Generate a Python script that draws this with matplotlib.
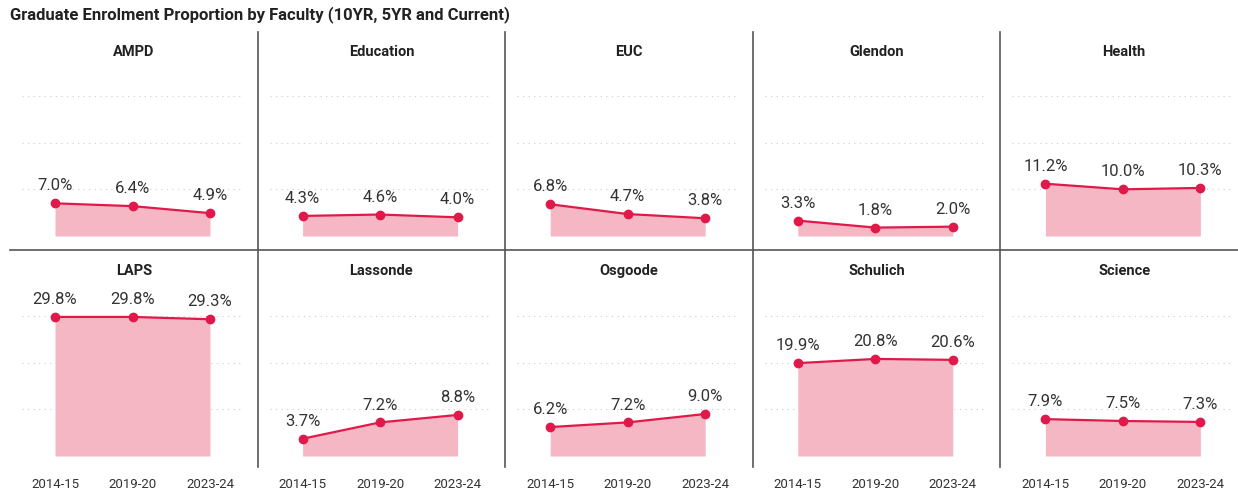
import matplotlib.pyplot as plt
from matplotlib.lines import Line2D

plt.rcParams['font.family'] = ['Roboto', 'DejaVu Sans']

# data
years = ['2014-15', '2019-20', '2023-24']
faculties = ['AMPD', 'Education', 'EUC', 'Glendon', 'Health',
             'LAPS', 'Lassonde', 'Osgoode', 'Schulich', 'Science']
ampd = [7.0, 6.4, 4.9]
education = [4.3, 4.6, 4.0]
euc = [6.8, 4.7, 3.8]
glendon = [3.3, 1.8, 2.0]
health = [11.2, 10.0, 10.3]
laps = [29.8, 29.8, 29.3]
lassonde = [3.7, 7.2, 8.8]
osgoode = [6.2, 7.2, 9.0]
schulich = [19.9, 20.8, 20.6]
science = [7.9, 7.5, 7.3]
values = [ampd, education, euc, glendon, health,
          laps, lassonde, osgoode, schulich, science]

line_color = '#E0194A'
fill_color = '#F5B7C3'
text_color = '#333333'
sep_color = '#555555'

W, H = 1238, 492
fig = plt.figure(figsize=(W / 100, H / 100), dpi=100)

fig.text(10 / W, 1 - 15 / H, 'Graduate Enrolment Proportion by Faculty (10YR, 5YR and Current)',
         fontsize=12, fontweight='bold', color='#222222', va='center', ha='left')

panel_w = 247.6
x = list(range(len(years)))
for i, (name, vals) in enumerate(zip(faculties, values)):
    row, col = divmod(i, 5)
    left = 10 + panel_w * col + 12
    bottom_px = 236 if row == 0 else 456
    top_px = bottom_px - 168
    ax = fig.add_axes([left / W, 1 - bottom_px / H, 221 / W, (bottom_px - top_px) / H])
    ax.fill_between(x, vals, 0, color=fill_color, linewidth=0)
    ax.plot(x, vals, color=line_color, linewidth=1.6, marker='o', markersize=6)
    for xi, v in zip(x, vals):
        ax.annotate(f'{v:.1f}%', (xi, v), xytext=(0, 12.5), textcoords='offset points',
                    ha='center', va='center', fontsize=12, color=text_color)
    ax.set_xlim(-0.426, 2.426)
    ax.set_ylim(0, 36)
    ax.set_yticks([0, 10, 20, 30])
    ax.grid(axis='y', linestyle=(0, (1, 4)), color='#CCCCCC', linewidth=0.8)
    ax.set_axisbelow(True)
    for s in ax.spines.values():
        s.set_visible(False)
    ax.tick_params(length=0, labelleft=False)
    ax.set_xticks(x)
    if row == 1:
        ax.set_xticklabels(years, fontsize=9.5, color=text_color)
        ax.tick_params(axis='x', pad=16)
    else:
        ax.set_xticklabels([])
    title_y = 52 if row == 0 else 271
    fig.text((10 + panel_w * col + panel_w / 2) / W, 1 - title_y / H, name,
             fontsize=10.5, fontweight='bold', color='#222222', ha='center', va='center')

# panel separators
for col in range(1, 5):
    xs = (10 + panel_w * col) / W
    fig.add_artist(Line2D([xs, xs], [1 - 32 / H, 1 - 467 / H], color=sep_color, linewidth=1.2))
fig.add_artist(Line2D([10 / W, 1], [1 - 250 / H, 1 - 250 / H], color=sep_color, linewidth=1.2))

plt.savefig('out.png', dpi=100)
